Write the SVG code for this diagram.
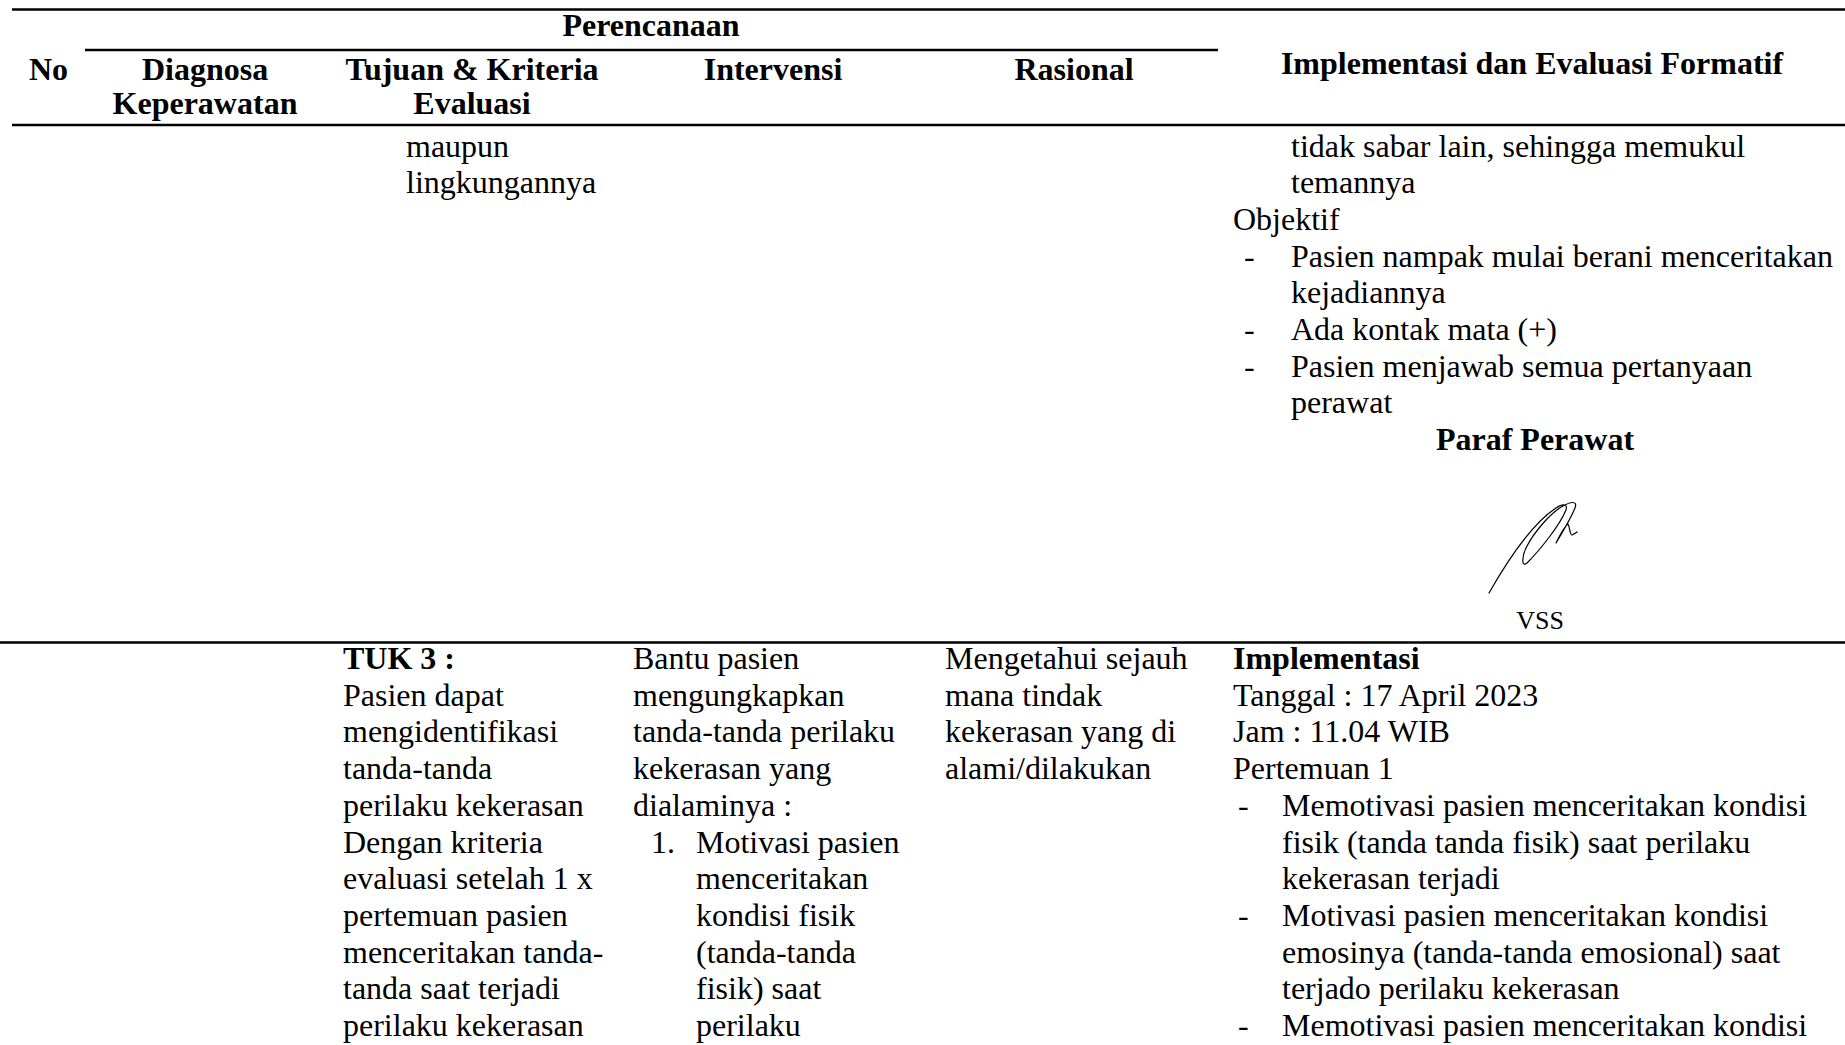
<svg xmlns="http://www.w3.org/2000/svg" width="1845" height="1045" viewBox="0 0 1845 1045">
  <style>
    text { font-family: "Liberation Serif", "Times New Roman", serif; font-size: 32px; fill: #000; }
    .b { font-weight: bold; }
    .c { text-anchor: middle; }
    .sm { font-size: 26px; }
    .rule { stroke: #000; stroke-width: 2.5; fill: none; }
  </style>
  <rect width="1845" height="1045" fill="#fff"/>

  <!-- table rules -->
  <g id="rules">
    <line class="rule" x1="12" y1="9.5" x2="1845" y2="9.5"/>
    <line class="rule" x1="85" y1="50" x2="1218" y2="50"/>
    <line class="rule" x1="12" y1="125" x2="1845" y2="125"/>
    <line class="rule" x1="0" y1="642.5" x2="1845" y2="642.5"/>
  </g>

  <!-- header row -->
  <g id="header">
    <text class="b c" x="651" y="36">Perencanaan</text>
    <text class="b" x="29" y="80">No</text>
    <text class="b c" x="205" y="80">Diagnosa</text>
    <text class="b c" x="205" y="114">Keperawatan</text>
    <text class="b c" x="472" y="80">Tujuan &amp; Kriteria</text>
    <text class="b c" x="472" y="114">Evaluasi</text>
    <text class="b c" x="773" y="80">Intervensi</text>
    <text class="b c" x="1074" y="80">Rasional</text>
    <text class="b c" x="1532" y="74">Implementasi dan Evaluasi Formatif</text>
  </g>

  <!-- row 1 (continued from previous page) -->
  <g id="row1-tujuan">
    <text x="406" y="156.5">maupun</text>
    <text x="406" y="193.2">lingkungannya</text>
  </g>
  <g id="row1-implementasi">
    <text x="1291" y="156.5">tidak sabar lain, sehingga memukul</text>
    <text x="1291" y="193.2">temannya</text>
    <text x="1233" y="229.9">Objektif</text>
    <text x="1244" y="266.6">-</text>
    <text x="1291" y="266.6">Pasien nampak mulai berani menceritakan</text>
    <text x="1291" y="303.3">kejadiannya</text>
    <text x="1244" y="340">-</text>
    <text x="1291" y="340">Ada kontak mata (+)</text>
    <text x="1244" y="376.7">-</text>
    <text x="1291" y="376.7">Pasien menjawab semua pertanyaan</text>
    <text x="1291" y="413.4">perawat</text>
    <text class="b c" x="1535" y="450">Paraf Perawat</text>
  </g>
  <g id="signature">
    <path d="M1489,593 C1505,565 1530,525 1556,508 C1562,504 1568,503 1566,510 C1560,525 1540,550 1527,563 C1521,568 1522,556 1526,548 C1535,530 1552,512 1563,506 C1570,502 1578,500 1575,508 C1571,518 1562,533 1556,543 C1560,535 1565,526 1568,524 C1570,528 1570,535 1572,535 C1574,534 1576,533 1577,532" fill="none" stroke="#000" stroke-width="1.2" stroke-linecap="round" stroke-linejoin="round"/>
    <text class="c sm" x="1540" y="629">VSS</text>
  </g>

  <!-- row 2 -->
  <g id="row2-tujuan">
    <text class="b" x="343" y="669">TUK 3 :</text>
    <text x="343" y="705.7">Pasien dapat</text>
    <text x="343" y="742.4">mengidentifikasi</text>
    <text x="343" y="779.1">tanda-tanda</text>
    <text x="343" y="815.8">perilaku kekerasan</text>
    <text x="343" y="852.5">Dengan kriteria</text>
    <text x="343" y="889.2">evaluasi setelah 1 x</text>
    <text x="343" y="925.9">pertemuan pasien</text>
    <text x="343" y="962.6">menceritakan tanda-</text>
    <text x="343" y="999.3">tanda saat terjadi</text>
    <text x="343" y="1036">perilaku kekerasan</text>
  </g>
  <g id="row2-intervensi">
    <text x="633" y="669">Bantu pasien</text>
    <text x="633" y="705.7">mengungkapkan</text>
    <text x="633" y="742.4">tanda-tanda perilaku</text>
    <text x="633" y="779.1">kekerasan yang</text>
    <text x="633" y="815.8">dialaminya :</text>
    <text x="651" y="852.5">1.</text>
    <text x="696" y="852.5">Motivasi pasien</text>
    <text x="696" y="889.2">menceritakan</text>
    <text x="696" y="925.9">kondisi fisik</text>
    <text x="696" y="962.6">(tanda-tanda</text>
    <text x="696" y="999.3">fisik) saat</text>
    <text x="696" y="1036">perilaku</text>
  </g>
  <g id="row2-rasional">
    <text x="945" y="669">Mengetahui sejauh</text>
    <text x="945" y="705.7">mana tindak</text>
    <text x="945" y="742.4">kekerasan yang di</text>
    <text x="945" y="779.1">alami/dilakukan</text>
  </g>
  <g id="row2-implementasi">
    <text class="b" x="1233" y="669">Implementasi</text>
    <text x="1233" y="705.7">Tanggal : 17 April 2023</text>
    <text x="1233" y="742.4">Jam : 11.04 WIB</text>
    <text x="1233" y="779.1">Pertemuan 1</text>
    <text x="1238" y="815.8">-</text>
    <text x="1282" y="815.8">Memotivasi pasien menceritakan kondisi</text>
    <text x="1282" y="852.5">fisik (tanda tanda fisik) saat perilaku</text>
    <text x="1282" y="889.2">kekerasan terjadi</text>
    <text x="1238" y="925.9">-</text>
    <text x="1282" y="925.9">Motivasi pasien menceritakan kondisi</text>
    <text x="1282" y="962.6">emosinya (tanda-tanda emosional) saat</text>
    <text x="1282" y="999.3">terjado perilaku kekerasan</text>
    <text x="1238" y="1036">-</text>
    <text x="1282" y="1036">Memotivasi pasien menceritakan kondisi</text>
  </g>
</svg>
